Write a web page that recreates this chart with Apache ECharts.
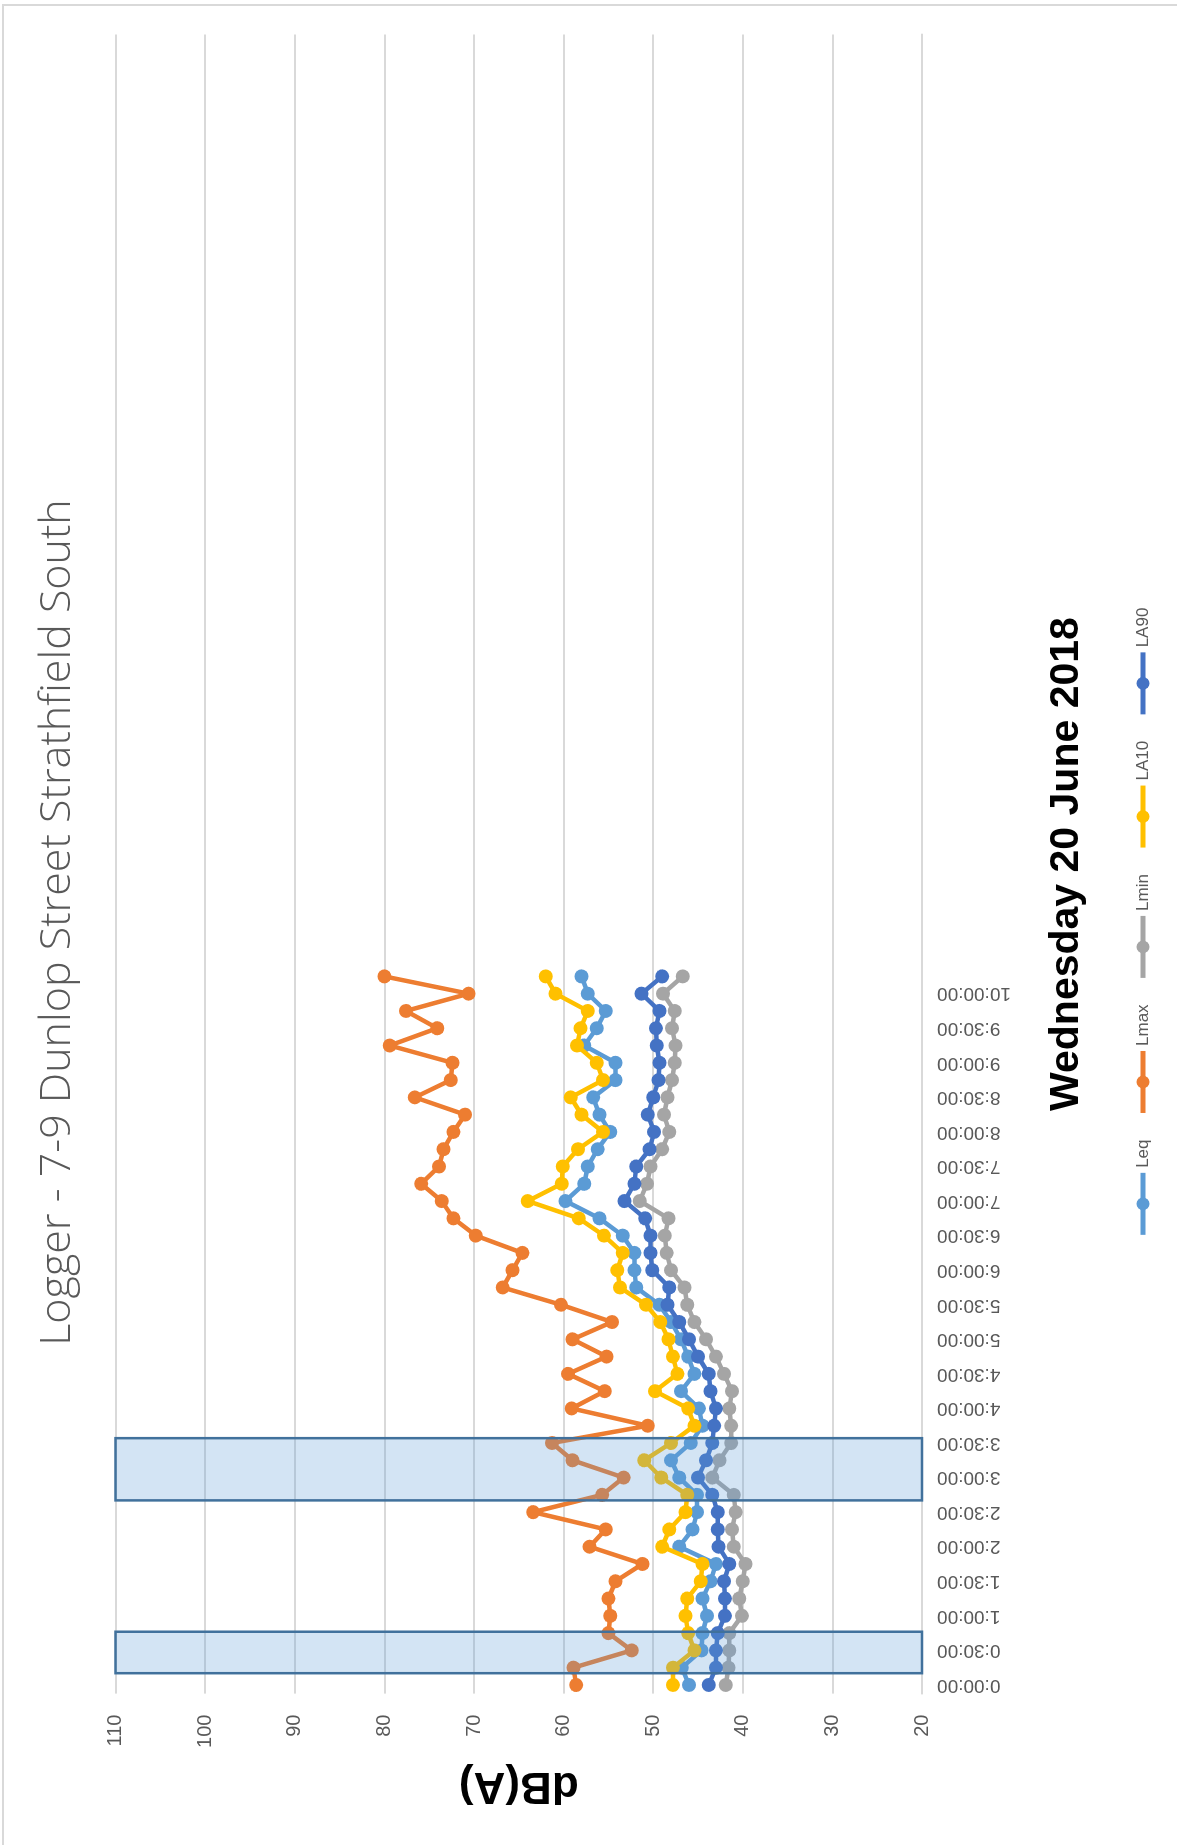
<!DOCTYPE html>
<html>
<head>
<meta charset="utf-8">
<script src="https://cdn.jsdelivr.net/npm/echarts@6/dist/echarts.min.js"></script>
<style>
  html, body { margin: 0; padding: 0; background: #fff; width: 1177px; height: 1845px; overflow: hidden; }
  #frame { position: absolute; left: 2px; top: 4px; width: 1200px; height: 1880px; border: 2px solid #D9D9D9; box-sizing: border-box; }
  /* the chart is laid out landscape and turned a quarter turn to sit upright on the page */
  #chart { position: absolute; left: 0; top: 0; width: 1845px; height: 1177px;
           transform-origin: 0 0; transform: translateY(1845px) rotate(-90deg); }
</style>
</head>
<body>
<div id="frame"></div>
<div id="chart"></div>
<script>
// 15-minute logging intervals
const timeSlots = ['0:00:00','0:15:00','0:30:00','0:45:00','1:00:00','1:15:00','1:30:00','1:45:00',
  '2:00:00','2:15:00','2:30:00','2:45:00','3:00:00','3:15:00','3:30:00','3:45:00',
  '4:00:00','4:15:00','4:30:00','4:45:00','5:00:00','5:15:00','5:30:00','5:45:00',
  '6:00:00','6:15:00','6:30:00','6:45:00','7:00:00','7:15:00','7:30:00','7:45:00',
  '8:00:00','8:15:00','8:30:00','8:45:00','9:00:00','9:15:00','9:30:00','9:45:00',
  '10:00:00','10:15:00'];
const slotsPerDay = 96;

const leq  = [46.0,46.8,44.6,44.5,44.0,44.5,43.6,43.0,47.1,45.6,45.1,45.1,47.1,48.0,45.8,44.5,44.9,46.9,45.4,46.1,46.9,48.0,49.3,51.9,52.1,52.1,53.4,56.0,59.8,57.7,57.3,56.2,54.8,56.0,56.7,54.2,54.2,57.7,56.3,55.3,57.3,58.0];
const lmax = [58.6,58.9,52.4,55.0,54.8,55.0,54.2,51.2,57.1,55.3,63.4,55.7,53.3,59.0,61.3,50.6,59.1,55.4,59.5,55.2,59.0,54.6,60.3,66.8,65.7,64.6,69.8,72.3,73.6,75.9,73.9,73.4,72.3,71.0,76.6,72.6,72.4,79.4,74.1,77.6,70.6,80.0];
const lmin = [41.9,41.6,41.5,41.5,40.1,40.4,40.0,39.7,41.0,41.2,40.8,41.0,43.4,42.6,41.3,41.3,41.5,41.2,42.1,43.0,44.1,45.4,46.2,46.5,48.0,48.5,48.7,48.3,51.5,50.7,50.3,49.0,48.2,48.8,48.4,47.9,47.6,47.5,47.9,47.6,48.9,46.7];
const la10 = [47.8,47.8,45.4,46.1,46.4,46.2,44.7,44.5,49.0,48.2,46.4,46.2,49.1,51.0,48.0,45.4,46.1,49.8,47.3,47.8,48.3,49.2,50.8,53.7,54.0,53.4,55.5,58.3,64.0,60.2,60.1,58.4,55.6,58.0,59.2,55.6,56.3,58.5,58.1,57.3,60.9,62.0];
const la90 = [43.8,43.0,43.0,42.8,42.0,42.0,42.1,41.5,42.7,42.8,42.8,43.4,45.0,44.1,43.4,43.2,43.0,43.6,43.8,45.0,46.0,47.1,48.4,48.2,50.1,50.3,50.3,50.9,53.2,52.1,51.9,50.4,49.9,50.6,50.0,49.4,49.3,49.6,49.7,49.3,51.3,49.0];

// shaded periods, start/end in hours
const highlightHours = [[0.17, 0.77], [2.67, 3.57]];

const dbMin = 20, dbMax = 110, dbStep = 10;

const seriesNames  = ['Leq', 'Lmax', 'Lmin', 'LA10', 'LA90'];
const seriesValues = [leq, lmax, lmin, la10, la90];
const seriesColors = ['#5B9BD5', '#ED7D31', '#A5A5A5', '#FFC000', '#4472C4'];

const categories = timeSlots.concat(new Array(slotsPerDay - timeSlots.length).fill(''));

const chart = echarts.init(document.getElementById('chart'), null, { renderer: 'canvas' });

const lineSeries = seriesNames.map((name, k) => ({
  name: name,
  type: 'line',
  xAxisIndex: 0,
  yAxisIndex: 0,
  data: seriesValues[k],
  symbol: 'circle',
  symbolSize: 14,
  showAllSymbol: true,
  lineStyle: { width: 4.5, color: seriesColors[k] },
  itemStyle: { color: seriesColors[k] },
  z: 2 + k * 0.1
}));

const option = {
  animation: false,
  title: {
    text: 'Logger - 7-9 Dunlop Street Strathfield South',
    left: 'center',
    top: 28,
    textStyle: { fontFamily: 'Open Sans', fontWeight: 300, fontSize: 43, lineHeight: 50, color: '#595959' }
  },
  legend: {
    data: seriesNames,
    left: 'center',
    top: 1128,
    itemWidth: 62,
    itemHeight: 16,
    itemGap: 24,
    lineStyle: { width: 5 },
    textStyle: { fontFamily: 'Liberation Sans', fontSize: 17, lineHeight: 20, color: '#595959' }
  },
  grid: { left: 151.4, right: 34.5, top: 115.6, bottom: 255, containLabel: false, outerBoundsMode: 'none' },
  xAxis: [
    {
      type: 'category',
      data: categories,
      boundaryGap: true,
      name: 'Wednesday 20 June 2018',
      nameLocation: 'middle',
      nameGap: 122,
      nameTextStyle: { fontFamily: 'Liberation Sans', fontWeight: 'bold', fontSize: 41, lineHeight: 46, color: '#000' },
      axisLine: { show: true, lineStyle: { color: '#D9D9D9', width: 2 } },
      axisTick: { show: false },
      splitLine: { show: false },
      axisLabel: { interval: 1, rotate: 90, margin: 15, fontFamily: 'Liberation Sans', fontSize: 19, color: '#595959' }
    },
    {
      type: 'value',
      show: false,
      min: -0.125,
      max: 23.875
    }
  ],
  yAxis: {
    type: 'value',
    min: dbMin,
    max: dbMax,
    interval: dbStep,
    name: 'dB(A)',
    nameLocation: 'middle',
    nameGap: 67,
    nameRotate: 90,
    nameTextStyle: { fontFamily: 'Liberation Sans', fontWeight: 'bold', fontSize: 44, lineHeight: 50, color: '#000' },
    axisLine: { show: false },
    axisTick: { show: false },
    splitLine: { lineStyle: { color: '#D9D9D9', width: 2 } },
    axisLabel: { margin: 21, fontFamily: 'Liberation Sans', fontSize: 20, color: '#595959' }
  },
  series: lineSeries.concat([{
    type: 'custom',
    xAxisIndex: 1,
    yAxisIndex: 0,
    silent: true,
    z: 10,
    data: highlightHours,
    encode: { x: [0, 1] },
    renderItem: function (params, api) {
      const p0 = api.coord([api.value(0), dbMax]);
      const p1 = api.coord([api.value(1), dbMin]);
      return {
        type: 'rect',
        shape: { x: p0[0], y: p0[1], width: p1[0] - p0[0], height: p1[1] - p0[1] },
        style: { fill: 'rgba(91,155,213,0.27)', stroke: '#41719C', lineWidth: 2.5 }
      };
    }
  }])
};

chart.setOption(option);
</script>
</body>
</html>
